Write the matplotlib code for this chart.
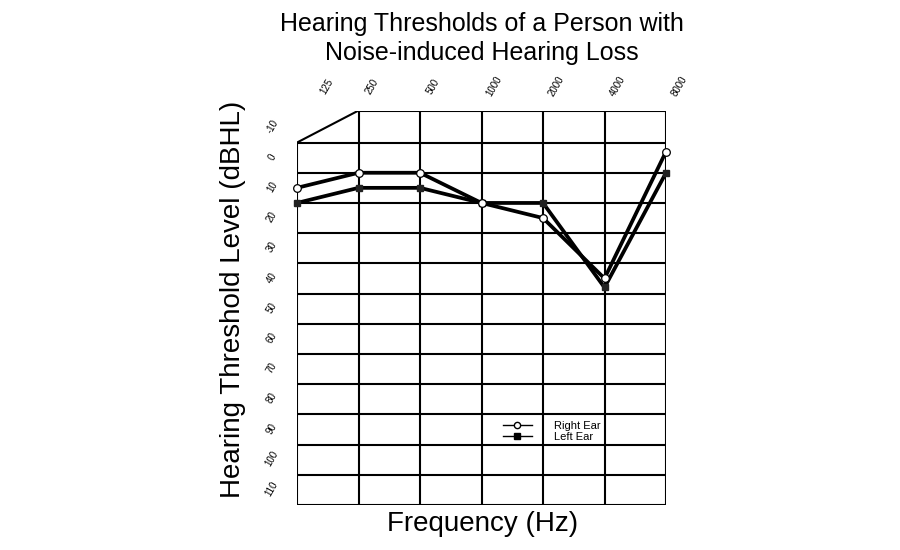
import matplotlib.pyplot as plt
from matplotlib.lines import Line2D

plt.rcParams['font.family'] = ['Liberation Sans', 'DejaVu Sans']

# audiogram values (dB HL)
freqs = [125, 250, 500, 1000, 2000, 4000, 8000]
freq_labels = ["125", "250", "500", "1000", "2000", "4000", "8000"]
right_ear = [5, 0, 0, 10, 15, 35, -7]
left_ear = [10, 5, 5, 10, 10, 38, 0]
levels = list(range(-10, 111, 10))
top_level = -20.6

fig = plt.figure(figsize=(9, 5.5), dpi=100)
ax = fig.add_axes([0.33, 0.082, 0.41, 0.717])
ax.set_xscale('log', base=2)
ax.set_xlim(freqs[0], freqs[-1])
ax.set_ylim(levels[-1], top_level)
ax.axis('off')

grid_kw = dict(color='black', lw=1.5, solid_capstyle='projecting', zorder=1)
# horizontal grid lines
for lv in levels:
    ax.plot([freqs[0], freqs[-1]], [lv, lv], **grid_kw)
ax.plot([freqs[1], freqs[-1]], [top_level, top_level], **grid_kw)
# vertical grid lines
ax.plot([freqs[0], freqs[0]], [levels[0], levels[-1]], **grid_kw)
for f in freqs[1:]:
    ax.plot([f, f], [top_level, levels[-1]], **grid_kw)
# slanted corner
ax.plot([freqs[0], freqs[1]], [levels[0], top_level], **grid_kw)

# data
ax.plot(freqs, left_ear, color='black', lw=2.7, marker='s', ms=5,
        mfc='#222222', mec='#222222', zorder=3, clip_on=False)
ax.plot(freqs, right_ear, color='black', lw=2.7, marker='o', ms=5.5,
        mfc='white', mec='black', mew=0.9, zorder=4, clip_on=False)

# frequency labels along top
for i, (f, lab) in enumerate(zip(freqs, freq_labels)):
    dx = 30 if i == 0 else 13
    ax.annotate(lab, xy=(f, 1), xycoords=('data', 'axes fraction'),
                xytext=(dx, 24), textcoords='offset pixels',
                rotation=60, ha='center', va='center', fontsize=7)

# level labels along left
for lv in levels:
    ax.annotate(str(lv), xy=(0, lv), xycoords=('axes fraction', 'data'),
                xytext=(-25, 16), textcoords='offset pixels',
                rotation=60, ha='center', va='center', fontsize=7)

fig.text(0.535, 0.93, "Hearing Thresholds of a Person with\nNoise-induced Hearing Loss",
         ha='center', va='center', fontsize=18, linespacing=1.3)
fig.text(0.259, 0.455, "Hearing Threshold Level (dBHL)", rotation=90,
         ha='center', va='center', fontsize=20)
fig.text(0.536, 0.048, "Frequency (Hz)", ha='center', va='center', fontsize=20)

handles = [
    Line2D([], [], color='black', lw=1.0, marker='o', ms=4.5, mfc='white', mec='black'),
    Line2D([], [], color='black', lw=1.0, marker='s', ms=4.5, mfc='black', mec='black'),
]
ax.legend(handles, ["Right Ear", "Left Ear"], loc='center', bbox_to_anchor=(0.69, 0.187),
          frameon=False, fontsize=8, handlelength=2.6, handletextpad=2.0,
          labelspacing=0.1, borderpad=0.1)

fig.savefig("out.png", dpi=100, facecolor='white')
